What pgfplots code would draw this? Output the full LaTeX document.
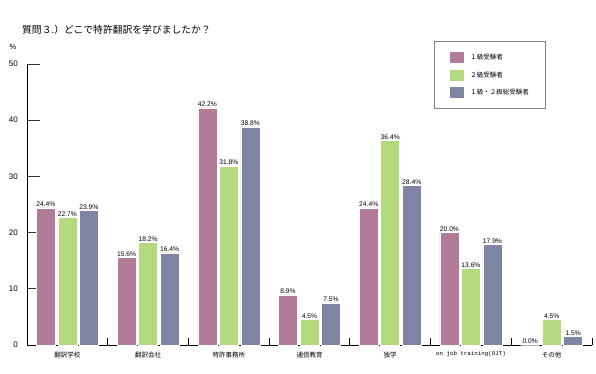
\documentclass[border=0pt]{standalone}
\usepackage{pgfplots}
\pgfplotsset{compat=1.18}
\usepackage{fontspec}
\setmainfont{Liberation Sans}
\newfontfamily\cjk{Noto Sans CJK JP}
\newfontfamily\mono{Liberation Mono}
\definecolor{c1}{HTML}{B27B98}
\definecolor{c2}{HTML}{B4D97F}
\definecolor{c3}{HTML}{8084A3}
\begin{document}
\begin{tikzpicture}[x=1bp,y=1bp]
\useasboundingbox (0,0) rectangle (596,373);
\node[anchor=west, font=\cjk\fontsize{9.8bp}{11bp}\selectfont, inner sep=0] at (22,343) {質問３.）どこで特許翻訳を学びましたか？};
\node[font=\fontsize{7.5bp}{8bp}\selectfont, inner sep=0] at (13,326) {\%};
\begin{axis}[
  at={(27bp,28bp)}, anchor=south west,
  scale only axis, width=565bp, height=281bp,
  xmin=-0.5, xmax=6.5, ymin=0, ymax=50,
  /pgf/number format/assume math mode=true,
  axis x line*=bottom, axis y line*=left,
  axis line style={-, black, line width=0.8bp},
  tick align=inside, xtick align=inside,
  ytick={0,10,...,50},
  major tick length=13bp,
  minor tick length=7bp,
  xtick={0,...,6},
  xticklabels={翻訳学校, 翻訳会社, 特許事務所, 通信教育, 独学, {\mono\fontsize{5.8bp}{7bp}\selectfont on job training(OJT)}, その他},
  major x tick style={draw=none},
  minor xtick={0.5,1.5,...,6.5},
  minor x tick style={black, line width=0.8bp, yshift=7bp},
  ytick style={black!80, line width=0.8bp},
  xticklabel style={font=\cjk\fontsize{6.5bp}{7bp}\selectfont, inner sep=0pt, yshift=6.5bp},
  yticklabel style={font=\fontsize{8bp}{9bp}\selectfont, inner sep=0pt, xshift=-9bp},
  ybar=2.5bp, bar width=19bp,
  nodes near coords={\pgfmathprintnumber[fixed,fixed zerofill,precision=1]{\pgfplotspointmeta}\%},
  every node near coord/.append style={font=\fontsize{6.7bp}{7bp}\selectfont, inner sep=1bp, text=black},
  legend style={at={(0.7204,1.0819)}, anchor=north west, draw=gray, line width=0.8bp,
    font=\cjk\fontsize{6.5bp}{8bp}\selectfont, inner xsep=14.5bp, inner ysep=10bp,
    row sep=5bp, column sep=4bp, cells={anchor=west}},
  legend image code/.code={\fill[#1] (0bp,-6bp) rectangle (15bp,6bp);},
  clip=false,
]
\addplot[fill=c1, draw=white, line width=0.5bp] coordinates {(0,24.4) (1,15.6) (2,42.2) (3,8.9) (4,24.4) (5,20.0) (6,0.0)};
\addplot[fill=c2, draw=white, line width=0.5bp] coordinates {(0,22.7) (1,18.2) (2,31.8) (3,4.5) (4,36.4) (5,13.6) (6,4.5)};
\addplot[fill=c3, draw=white, line width=0.5bp] coordinates {(0,23.9) (1,16.4) (2,38.8) (3,7.5) (4,28.4) (5,17.9) (6,1.5)};
\legend{１級受験者, ２級受験者, １級・２級総受験者}
\end{axis}
\end{tikzpicture}
\end{document}
